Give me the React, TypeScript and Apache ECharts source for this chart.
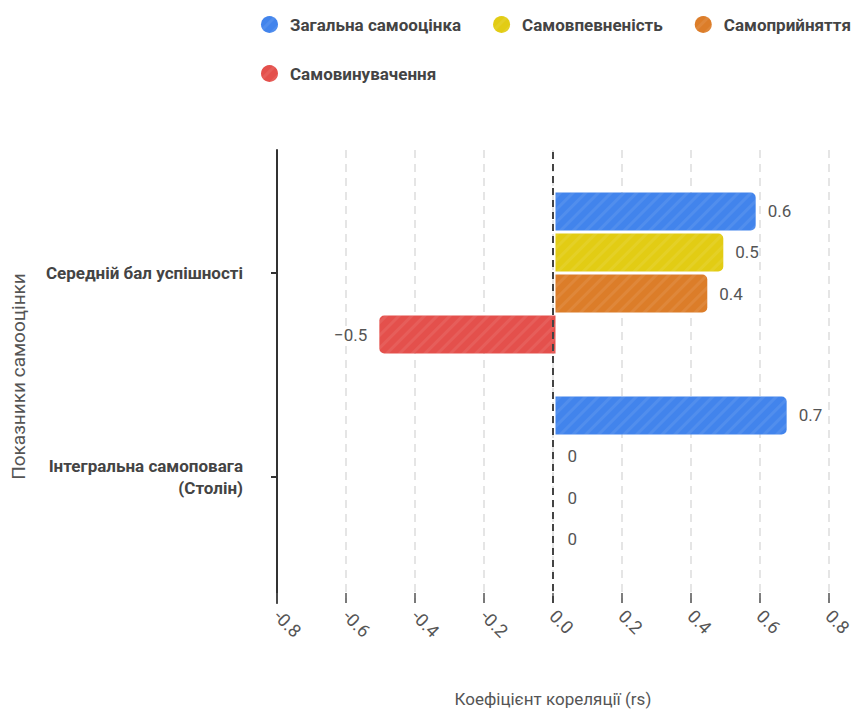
import React, { useEffect, useRef } from "react";
import * as echarts from "echarts";

const categories = ["Середній бал успішності", "Інтегральна самоповага\n(Столін)"];
const seriesNames = ["Загальна самооцінка", "Самовпевненість", "Самоприйняття", "Самовинувачення"];
const totalSelfEsteem = [0.575, 0.664];
const selfConfidence = [0.482, 0];
const selfAcceptance = [0.436, 0];
const selfBlame = [-0.506, 0];
const xTicks = { min: -0.8, max: 0.8, interval: 0.2 };
const colors = ["#4284ec", "#e2cc14", "#dc7d29", "#e4504c"];

const fmt = (v: number) => (v === 0 ? "0" : (v < 0 ? "\u2212" : "") + Math.abs(v).toFixed(1));

export default function App() {
  const ref = useRef<HTMLDivElement>(null);
  useEffect(() => {
    document.body.style.margin = "0";
    const chart = echarts.init(ref.current!, undefined, { renderer: "svg" });
    const all = [totalSelfEsteem, selfConfidence, selfAcceptance, selfBlame];
    const font = "Roboto";
    const bars = all.map((vals, i) => ({
      name: seriesNames[i],
      type: "bar",
      xAxisIndex: 1,
      yAxisIndex: 1,
      barWidth: 38,
      barGap: "8%",
      itemStyle: {
        color: colors[i],
        decal: {
          symbol: "rect",
          symbolSize: 1,
          dashArrayX: [1, 0],
          dashArrayY: [3, 6],
          rotation: -Math.PI / 4,
          color: "rgba(255,255,255,0.08)",
        },
      },
      label: {
        show: true,
        position: "right",
        distance: 12,
        color: "#555",
        fontSize: 17,
        fontFamily: font,
        formatter: (p: any) => fmt(p.value),
      },
      data: vals.map((v) => ({
        value: v,
        itemStyle: { borderRadius: v < 0 ? [5, 0, 0, 5] : [0, 5, 5, 0] },
        label: { position: v < 0 ? "left" : "right" },
      })),
    }));
    chart.setOption({
      animation: false,
      backgroundColor: "#fff",
      textStyle: { fontFamily: font },
      legend: {
        data: seriesNames,
        left: 256,
        top: 11,
        width: 660,
        icon: "circle",
        itemWidth: 17,
        itemHeight: 17,
        itemGap: 32,
        textStyle: {
          color: "#444",
          fontSize: 17,
          fontWeight: "bold",
          fontFamily: font,
          padding: [0, 0, 0, 7],
        },
      },
      grid: [
        { left: 277, right: 21, top: 150, height: 455 },
        { left: 277, right: 21, top: 171, height: 408 },
      ],
      xAxis: [
        {
          type: "value",
          gridIndex: 0,
          min: xTicks.min,
          max: xTicks.max,
          interval: xTicks.interval,
          axisLine: { show: false, onZero: false },
          axisTick: { show: true, inside: true, length: 10, lineStyle: { color: "#555", width: 1.5 } },
          axisLabel: {
            rotate: -45,
            margin: 10,
            color: "#555",
            fontSize: 18,
            fontFamily: font,
            formatter: (v: number) => v.toFixed(1),
          },
          splitLine: { show: true, lineStyle: { color: "#ddd", width: 1.5, type: [8, 6] } },
          name: "Коефіцієнт кореляції (rs)",
          nameLocation: "middle",
          nameGap: 87,
          nameTextStyle: { color: "#555", fontSize: 17, fontFamily: font },
        },
        {
          type: "value",
          gridIndex: 1,
          min: xTicks.min,
          max: xTicks.max,
          interval: xTicks.interval,
          show: false,
        },
      ],
      yAxis: [
        {
          type: "value",
          gridIndex: 0,
          min: 0,
          max: 1,
          axisLine: { show: true, onZero: false, lineStyle: { color: "#333", width: 2 } },
          axisTick: { show: false },
          axisLabel: { show: false },
          splitLine: { show: false },
          name: "Показники самооцінки",
          nameLocation: "middle",
          nameRotate: 90,
          nameGap: 249,
          nameTextStyle: { color: "#555", fontSize: 19, fontFamily: font },
        },
        {
          type: "category",
          gridIndex: 1,
          inverse: true,
          data: categories,
          axisLine: { show: false, onZero: false },
          axisTick: { show: true, alignWithLabel: true, length: 6, lineStyle: { color: "#333", width: 2 } },
          axisLabel: {
            margin: 34,
            color: "#444",
            fontSize: 17,
            fontWeight: "bold",
            fontFamily: font,
            lineHeight: 22,
            align: "right",
          },
          splitLine: { show: false },
        },
      ],
      series: [
        ...bars,
        {
          name: "zero",
          type: "line",
          xAxisIndex: 0,
          yAxisIndex: 0,
          data: [],
          z: 5,
          markLine: {
            silent: true,
            symbol: "none",
            label: { show: false },
            lineStyle: { color: "#444", width: 2, type: [7, 5] },
            data: [{ xAxis: 0 }],
          },
        },
      ],
    });
    return () => chart.dispose();
  }, []);
  return <div ref={ref} style={{ width: 855, height: 712 }} />;
}
